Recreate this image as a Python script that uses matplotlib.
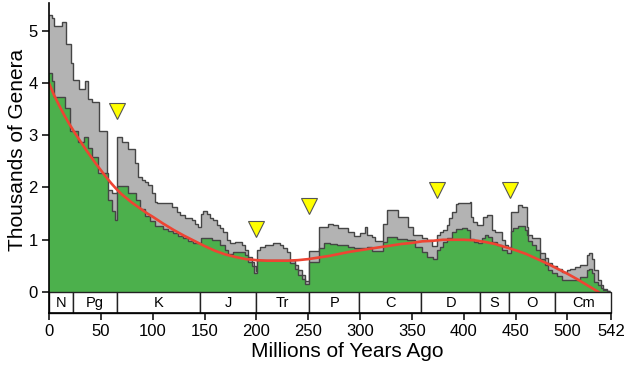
import matplotlib
matplotlib.use("Agg")
import matplotlib.pyplot as plt
from matplotlib.patches import Rectangle
import numpy as np

plt.rcParams['font.family'] = ['Liberation Sans', 'DejaVu Sans']

# ---- data (millions of years ago, thousands of genera) ----
all_age = [0, 2.6, 5.1, 12.2, 16.0, 20.9, 23.5, 28.9, 34.7, 37.9, 41.1, 48.5, 56.2, 60.4,
           66.0, 70.2, 76.5, 83.0, 86.2, 89.5, 92.6, 95.8, 99.0, 102.2, 103.9, 118.3, 123.2,
           126.3, 131.2, 137.6, 140.8, 144.0, 146.3, 148.8, 152.1, 155.3, 158.5, 161.7, 164.9,
           168.1, 171.4, 174.6, 179.4, 185.8, 189.0, 192.2, 195.5, 198.0, 199.3, 200.3, 203.5,
           208.3, 216.3, 222.8, 226.0, 229.2, 232.4, 237.2, 240.4, 243.7, 246.9, 250.7, 260.5,
           269.4, 274.2, 279.0, 288.7, 294.1, 299.9, 304.8, 306.4, 311.2, 314.4, 322.4, 326.3,
           336.9, 346.5, 351.3, 359.4, 364.3, 369.1, 373.9, 377.1, 380.3, 383.5, 385.8, 388.4,
           392.2, 394.8, 406.0, 407.0, 409.2, 412.5, 418.8, 422.1, 426.9, 430.1, 436.6, 439.8,
           443.0, 445.5, 452.6, 455.9, 460.7, 462.3, 465.5, 473.5, 478.3, 481.5, 484.8, 489.6,
           494.4, 499.3, 502.5, 507.3, 512.1, 518.5, 520.8, 523.4, 525.9, 529.8, 532.4, 534.6,
           537.8]
all_genera = [5.30, 5.23, 5.09, 5.17, 4.75, 4.37, 4.05, 3.88, 4.04, 3.70, 3.63, 3.07, 1.95, 1.89,
              2.97, 2.87, 2.74, 2.46, 2.20, 2.15, 2.11, 2.05, 1.89, 1.73, 1.70, 1.63, 1.54,
              1.47, 1.42, 1.38, 1.31, 1.25, 1.50, 1.55, 1.50, 1.41, 1.38, 1.28, 1.22,
              1.15, 0.99, 0.93, 0.96, 0.90, 0.80, 0.68, 0.58, 0.50, 0.40, 0.80, 0.87,
              0.90, 0.94, 0.90, 0.84, 0.77, 0.61, 0.52, 0.42, 0.33, 0.22, 0.78, 1.25,
              1.31, 1.28, 1.22, 1.15, 1.08, 1.12, 1.24, 1.10, 1.05, 0.97, 1.31, 1.57,
              1.43, 1.25, 1.09, 1.03, 0.99, 0.88, 1.09, 1.15, 1.19, 1.28, 1.41, 1.54,
              1.68, 1.71, 1.73, 1.44, 1.34, 1.28, 1.44, 1.47, 1.19, 1.15, 0.99, 0.90,
              0.86, 1.53, 1.66, 1.62, 1.25, 1.10, 1.03, 0.74, 0.65, 0.55, 0.49, 0.45,
              0.39, 0.42, 0.45, 0.48, 0.52, 0.71, 0.74, 0.64, 0.42, 0.23, 0.13, 0.05,
              0.02]

res_age = [0, 2.6, 5.1, 15.4, 20.3, 28.3, 34.1, 37.3, 41.0, 47.6, 57.2, 60.4, 63.7,
           66.0, 76.5, 83.9, 87.7, 92.6, 97.4, 102.2, 110.3, 115.1, 120.0, 124.7, 129.6,
           134.4, 139.2, 146.3, 152.1, 156.9, 164.9, 169.7, 172.9, 177.8, 189.0, 192.2,
           195.5, 198.0, 200.3, 232.4, 237.2, 240.4, 243.7, 246.9, 250.7, 260.5, 265.2,
           271.0, 277.5, 288.7, 294.1, 306.4, 311.2, 322.4, 326.3, 335.3, 345.0, 353.0,
           359.4, 364.3, 370.6, 373.9, 377.1, 380.3, 383.5, 388.4, 392.2, 398.0, 402.8,
           406.0, 409.9, 414.0, 417.3, 420.5, 423.7, 426.9, 431.7, 436.6, 441.4, 445.5,
           447.8, 452.6, 459.1, 460.7, 462.3, 466.0, 470.0, 473.5, 478.3, 481.5, 484.8,
           489.6, 494.4, 512.1, 518.5, 520.8, 523.4, 525.9, 529.8, 532.4, 534.6, 537.8]
res_genera = [4.18, 4.03, 3.73, 3.51, 3.07, 2.87, 2.97, 2.75, 2.59, 2.27, 1.76, 1.55, 1.37,
              2.02, 1.90, 1.76, 1.58, 1.45, 1.36, 1.27, 1.21, 1.17, 1.12, 1.08, 1.04,
              0.97, 0.93, 1.03, 1.04, 0.99, 0.90, 0.80, 0.72, 0.76, 0.70, 0.58,
              0.50, 0.36, 0.62, 0.55, 0.45, 0.33, 0.25, 0.15, 0.58, 0.85, 0.94,
              0.92, 0.90, 0.87, 0.84, 0.86, 0.79, 0.95, 1.05, 1.01, 0.99, 0.86,
              0.76, 0.68, 0.64, 0.80, 0.87, 0.96, 1.03, 1.15, 1.20, 1.22, 1.19,
              1.01, 0.96, 0.93, 1.03, 1.09, 1.05, 0.96, 0.90, 0.80, 0.74, 1.17,
              1.23, 1.27, 1.19, 1.10, 0.98, 0.90, 0.80, 0.64, 0.52, 0.42, 0.36,
              0.30, 0.24, 0.28, 0.42, 0.45, 0.36, 0.20, 0.13, 0.07, 0.04, 0.02]
series_end = 541.0

trend_age = [0, 5, 10, 15, 20, 25, 30, 35, 40, 45, 50, 55, 60, 65, 70, 75, 80, 85, 90, 95,
             100, 110, 120, 130, 140, 150, 160, 170,
             180, 190, 200, 210, 220, 230, 240, 250, 260, 270, 280, 290, 300, 310, 320, 330,
             340, 350, 360, 370, 380, 390, 400, 410, 420, 430, 440, 450, 460, 470, 480, 490,
             500, 510, 520, 530]
trend_val = [3.99, 3.76, 3.56, 3.37, 3.20, 3.04, 2.89, 2.74, 2.60, 2.46, 2.33, 2.20, 2.08, 1.97,
             1.87, 1.79, 1.71, 1.64, 1.57, 1.50,
             1.44, 1.31, 1.19, 1.08,
             0.98, 0.88, 0.79, 0.72, 0.67, 0.63, 0.61, 0.60, 0.60, 0.60, 0.61, 0.63, 0.66, 0.69,
             0.73, 0.77, 0.80, 0.83, 0.86, 0.89, 0.92, 0.94, 0.97, 0.98, 1.00, 1.00, 1.00, 0.99,
             0.96, 0.92, 0.86, 0.80, 0.73, 0.64, 0.55, 0.45, 0.35, 0.24, 0.12, 0.0]

extinction_age = [66, 200, 251, 374, 445]
extinction_mark = [3.46, 1.21, 1.65, 1.96, 1.96]

period_names = ['N', 'Pg', 'K', 'J', 'Tr', 'P', 'C', 'D', 'S', 'O', 'Cm']
period_bounds = [0, 23.03, 65.5, 145.5, 199.6, 251.0, 299.0, 359.2, 416.0, 443.7, 488.3, 542]

x_ticks = [0, 50, 100, 150, 200, 250, 300, 350, 400, 450, 500, 542]
y_ticks = [0, 1, 2, 3, 4, 5]

# ---- figure ----
fig = plt.figure(figsize=(6.27, 3.71), dpi=100)
ax = fig.add_axes([49 / 627, 58 / 371, 562 / 627, (313 - 3.3) / 371])

grey_fill = '#b3b3b3'
green_fill = '#4cb04c'
outline = '#454545'

edges_all = np.array(all_age + [series_end])
edges_res = np.array(res_age + [series_end])

ax.stairs(all_genera, edges_all, baseline=0, fill=True, color=grey_fill, lw=0, zorder=1)
ax.stairs(all_genera, edges_all, baseline=None, color=outline, lw=1.0, zorder=2)
ax.stairs(res_genera, edges_res, baseline=0, fill=True, color=green_fill, lw=0, zorder=3)
ax.stairs(res_genera, edges_res, baseline=None, color=outline, lw=1.0, zorder=4)

ax.plot(trend_age, trend_val, color='#ee4433', lw=1.9, zorder=5, solid_joinstyle='round')

ax.plot(extinction_age, extinction_mark, linestyle='none', marker='v', ms=11,
        markerfacecolor='#ffff00', markeredgecolor='#555555', markeredgewidth=0.8, zorder=6)

# period strip
strip_bottom, strip_top = -0.40, 0.0
for name, a, b in zip(period_names, period_bounds[:-1], period_bounds[1:]):
    ax.add_patch(Rectangle((a, strip_bottom), b - a, strip_top - strip_bottom,
                           facecolor='white', edgecolor='#222222', lw=1.0, zorder=7,
                           clip_on=False))
    ax.text((a + b) / 2, (strip_bottom + strip_top) / 2, name, ha='center', va='center',
            fontsize=10.5, zorder=8)

ax.set_xlim(0, 542)
ax.set_ylim(strip_bottom, 5.52)
ax.set_xticks(x_ticks)
ax.set_xticklabels([str(t) for t in x_ticks])
ax.set_yticks(y_ticks)
ax.set_yticklabels([str(t) for t in y_ticks])

for s in ['top', 'right']:
    ax.spines[s].set_visible(False)
for s in ['left', 'bottom']:
    ax.spines[s].set_linewidth(1.2)
    ax.spines[s].set_zorder(9)
ax.tick_params(axis='both', direction='out', length=5, width=1.1, labelsize=12, pad=3)

ax.set_xlabel('Millions of Years Ago', fontsize=15)
ax.set_ylabel('Thousands of Genera', fontsize=15)
ax.xaxis.set_label_coords(0.530, -0.095)
ax.yaxis.set_label_coords(-0.040, 0.526)

fig.savefig('out.png', dpi=100)
